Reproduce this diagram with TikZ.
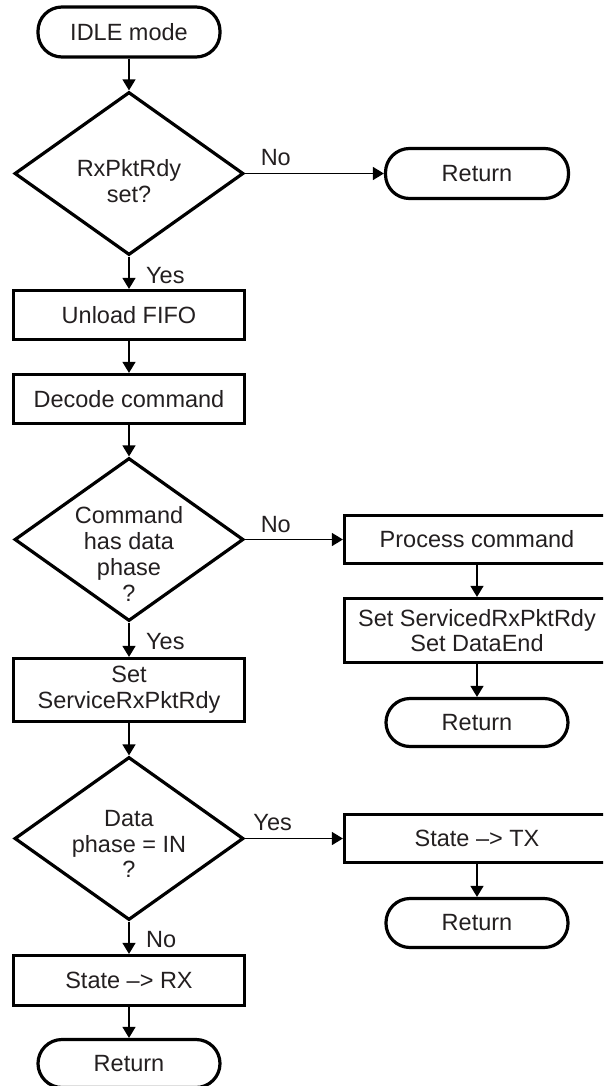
\documentclass[tikz,border=0pt]{standalone}
\usepackage{fontspec}
\setmainfont{Liberation Sans}
\usetikzlibrary{shapes.geometric,arrows.meta}
\definecolor{txt}{HTML}{231F20}
\begin{document}
\begin{tikzpicture}[x=1pt,y=-1pt,
  every node/.style={text=txt, font=\fontsize{23.5}{25.7}\selectfont},
  box/.style={draw, line width=3.2pt, rectangle, minimum width=231pt, minimum height=49pt, inner sep=0pt, align=center},
  term/.style={draw, line width=3.2pt, rectangle, rounded corners=24pt, minimum width=182pt, minimum height=50pt, inner sep=0pt},
  dec/.style={draw, line width=3.2pt, diamond, minimum width=229pt, minimum height=163pt, inner sep=0pt},
  lbl/.style={inner sep=0pt},
  conn/.style={line width=1.3pt, -{Triangle[length=11pt,width=13pt]}},
  ]
\useasboundingbox (0,0) rectangle (603,1086);
\clip (0,0) rectangle (603,1086);

% left column
\node[term] (idle) at (129,32) {IDLE mode};
\node[dec] (d1) at (129,173.5) {};
\node[lbl, align=center] (t1) at (129,181) {RxPktRdy\\set?};
\node[box] (unload) at (129,315) {Unload FIFO};
\node[box] (decode) at (129,399) {Decode command};
\node[dec] (d2) at (129,539.5) {};
\node[lbl, align=center] (t2) at (129,554) {Command\\has data\\phase\\?};
\node[box, minimum height=63pt] (setsrv) at (129,690) {Set\\ServiceRxPktRdy};
\node[dec] (d3) at (129,838.5) {};
\node[lbl, align=center] (t3) at (129,844) {Data\\phase = IN\\?};
\node[box, minimum height=50pt] (rx) at (129,980.5) {State --> RX};
\node[term, minimum height=48pt] (ret4) at (129,1063.5) {Return};

% right column
\node[term, minimum width=183pt] (ret1) at (477,173.5) {Return};
\node[box, minimum width=265pt, minimum height=48pt] (proc) at (477,539.5) {Process command};
\node[box, minimum width=265pt, minimum height=64pt] (setsvc) at (477,630.5) {Set ServicedRxPktRdy\\Set DataEnd};
\node[term, minimum height=48pt] (ret2) at (477,722.5) {Return};
\node[box, minimum width=265pt, minimum height=48pt] (tx) at (477,838.5) {State --> TX};
\node[term, minimum height=49pt] (ret3) at (477,923) {Return};

% connectors
\draw[conn] (idle.south) -- (d1.north);
\draw[conn] (d1.east) -- (ret1.west);
\draw[conn] (d1.south) -- (unload.north);
\draw[conn] (unload.south) -- (decode.north);
\draw[conn] (decode.south) -- (d2.north);
\draw[conn] (d2.east) -- (proc.west);
\draw[conn] (proc.south) -- (setsvc.north);
\draw[conn] (setsvc.south) -- (ret2.north);
\draw[conn] (d2.south) -- (setsrv.north);
\draw[conn] (setsrv.south) -- (d3.north);
\draw[conn] (d3.east) -- (tx.west);
\draw[conn] (tx.south) -- (ret3.north);
\draw[conn] (d3.south) -- (rx.north);
\draw[conn] (rx.south) -- (ret4.north);

% labels
\node[lbl, anchor=base east] (no1) at (291,166) {No};
\node[lbl, anchor=base west] (yes1) at (146,283) {Yes};
\node[lbl, anchor=base east] (no2) at (291,532) {No};
\node[lbl, anchor=base west] (yes2) at (146,649) {Yes};
\node[lbl, anchor=base east] (yes3) at (292,830) {Yes};
\node[lbl, anchor=base west] (no3) at (146,947) {No};
\end{tikzpicture}
\end{document}
